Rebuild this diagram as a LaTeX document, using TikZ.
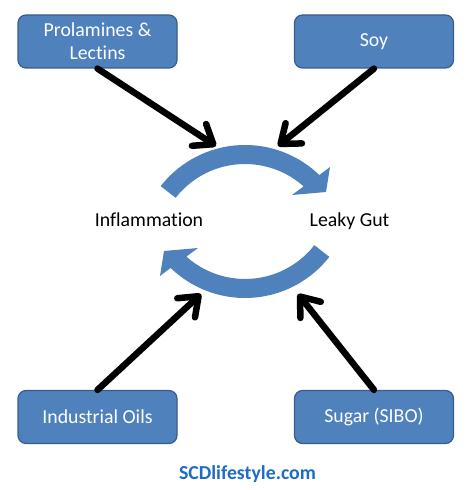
\documentclass[tikz,border=0pt]{standalone}
\usepackage{fontspec}
\setmainfont{Carlito}[Ligatures=NoCommon]
\usetikzlibrary{arrows.meta}
\definecolor{boxblue}{HTML}{4F81BD}
\definecolor{boxedge}{HTML}{385D8A}
\definecolor{linkblue}{RGB}{31,108,196}
\begin{document}
\begin{tikzpicture}[x=1pt,y=1pt,
  src/.style={rectangle, rounded corners=8pt, fill=boxblue, draw=boxedge, line width=1.2pt,
    minimum width=159pt, minimum height=53pt, text=white,
    font=\fontsize{19.8}{23}\selectfont, align=center, inner sep=0pt},
  push/.style={line width=6.5pt, line cap=round, line join=round,
    -{Straight Barb[length=17pt,width=26pt,line cap=round,line join=round]}},
  cyc/.style={fill=boxblue},
  lbl/.style={font=\fontsize{19.8}{23}\selectfont, inner sep=0pt, anchor=base}]
\useasboundingbox (0,0) rectangle (474,490);
% source boxes
\node[src] (pl) at (97.5,448.5) {Prolamines \&\\Lectins};
\node[src] (soy) at (374,448.5) {Soy};
\node[src] (oil) at (97.5,73) {Industrial Oils};
\node[src] (sug) at (374,73) {Sugar (SIBO)};
% cycle arrows
\fill[cyc] ([shift={(245,238)}]142:107) arc[start angle=142, end angle=46, radius=107]
  -- (330,323) -- (326,298) -- (292,295)
  -- ([shift={(245,238)}]48.2:88) arc[start angle=48.2, end angle=142, radius=88] -- cycle;
\fill[cyc] ([shift={(245,299)}]322:107) arc[start angle=322, end angle=226, radius=107]
  -- (160,214) -- (164,239) -- (198,242)
  -- ([shift={(245,299)}]228.2:88) arc[start angle=228.2, end angle=322, radius=88] -- cycle;
% labels
\node[lbl] (infl) at (149,263) {Inflammation};
\node[lbl] (leak) at (349.5,263) {Leaky Gut};
% arrow tips
\coordinate (t1) at (216,344);
\coordinate (t2) at (278,344);
\coordinate (t3) at (201,196);
\coordinate (t4) at (298,196);
\draw[push] (pl.south) -- (t1);
\draw[push] (soy.south) -- (t2);
\draw[push] (oil.north) -- (t3);
\draw[push] (sug.north) -- (t4);
% footer
\node[lbl, font=\fontsize{19.8}{23}\selectfont\bfseries, text=linkblue] (site) at (247.5,10) {SCDlifestyle.com};
\end{tikzpicture}
\end{document}
